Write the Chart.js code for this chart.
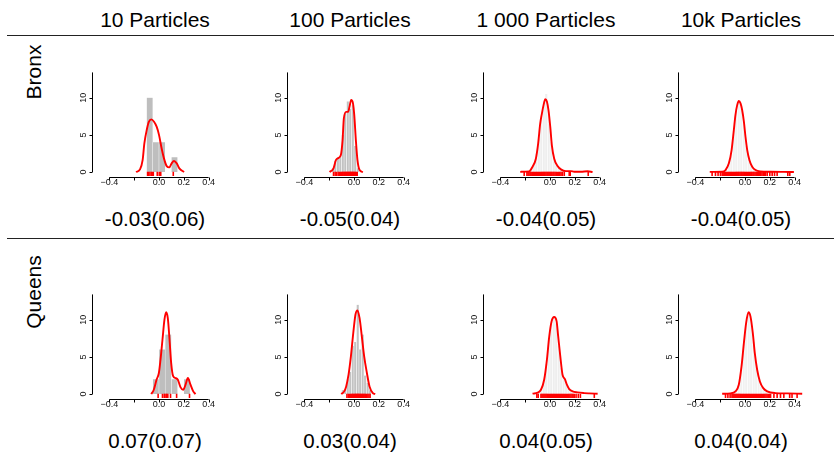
<!DOCTYPE html>
<html>
<head>
<meta charset="utf-8">
<title>Particle posterior densities</title>
<script src="https://cdn.jsdelivr.net/npm/chart.js@4.4.1/dist/chart.umd.min.js"></script>
<style>
  html, body { margin: 0; padding: 0; background: #fff; }
  body { width: 834px; height: 459px; position: relative; overflow: hidden;
         font-family: "Liberation Sans", Arial, Helvetica, sans-serif; color: #000; }
  .txt { position: absolute; white-space: nowrap; text-align: center; }
  .head { font-size: 21px; line-height: 21px; width: 200px; }
  .stat { font-size: 20.5px; line-height: 20px; width: 200px; }
  .rowlab { font-size: 21px; line-height: 21px; transform: translate(-50%, -50%) rotate(-90deg); }
  .rule { position: absolute; left: 7px; right: 0; height: 1px; background: #222; }
  canvas { position: absolute; }
</style>
</head>
<body>
<script>
'use strict';

/* LABELS */
const columnTitles = ['10 Particles', '100 Particles', '1\u00a0000 Particles', '10k Particles'];
const rowTitles = ['Bronx', 'Queens'];
const bronxStats = ['-0.03(0.06)', '-0.05(0.04)', '-0.04(0.05)', '-0.04(0.05)'];
const queensStats = ['0.07(0.07)', '0.03(0.04)', '0.04(0.05)', '0.04(0.04)'];
const yTicks = [0, 5, 10];
const xTicks = [-0.4, -0.2, 0, 0.2, 0.4];
const xTickLabels = ['\u22120.4', '', '0.0', '0.2', '0.4'];

/* BRONX — 10 particles */
const b10BinMid = [-0.075, -0.025, 0.025, 0.075, 0.125];
const b10BinHeight = [10, 4, 4, 0, 2];
const b10DensX = [-0.185, -0.153, -0.132, -0.118, -0.099, -0.081, -0.062, -0.040, -0.019, 0.000, 0.021, 0.040, 0.062, 0.083, 0.102, 0.121, 0.143, 0.164, 0.202];
const b10DensY = [0, 0.36, 1.6, 3.86, 5.65, 6.77, 7.08, 6.77, 6.1, 5.0, 3.2, 1.84, 0.8, 0.63, 1.17, 1.48, 1.17, 0.5, 0];
const b10Rug = [-0.092, -0.085, -0.073, -0.062, -0.054, -0.046, -0.014, 0.002, 0.014, 0.115];

/* BRONX — 100 particles */
const b100BinMid = [-0.17, -0.15, -0.13, -0.11, -0.09, -0.07, -0.05, -0.03, -0.01, 0.01, 0.03];
const b100BinHeight = [0.5, 1.5, 2, 2, 5, 8, 9.5, 8.5, 9, 3.5, 0.5];
const b100DensX = [-0.197, -0.165, -0.146, -0.125, -0.106, -0.092, -0.082, -0.063, -0.047, -0.036, -0.023, -0.009, 0.002, 0.015, 0.028, 0.045, 0.072];
const b100DensY = [0, 0.5, 1.6, 1.9, 2.3, 4.3, 7.2, 8.1, 8.1, 8.8, 9.7, 9.3, 7.7, 4.3, 1.6, 0.27, 0];
const b100Rug = [-0.165, -0.152, -0.141, -0.128, -0.119, -0.108, -0.101, -0.094, -0.088, -0.081, -0.075, -0.069, -0.063, -0.057, -0.052, -0.046, -0.041, -0.036, -0.031, -0.026, -0.021, -0.016, -0.011, -0.006, -0.001, 0.005, 0.011, 0.018, 0.026];

/* BRONX — 1 000 particles */
const b1000BinMid = [-0.17, -0.15, -0.13, -0.11, -0.09, -0.07, -0.05, -0.03, -0.01, 0.01, 0.03, 0.05, 0.07, 0.09, 0.11];
const b1000BinHeight = [0.1, 0.4, 1.0, 2.5, 4.5, 7.5, 9.5, 10.5, 8.0, 4.0, 2.0, 1.0, 0.5, 0.3, 0.2];
const b1000DensX = [-0.24, -0.168, -0.141, -0.114, -0.095, -0.079, -0.065, -0.052, -0.038, -0.025, -0.012, 0.002, 0.015, 0.034, 0.061, 0.088, 0.128, 0.169, 0.195, 0.249, 0.303, 0.343];
const b1000DensY = [0.03, 0.1, 0.7, 1.8, 3.9, 6.5, 7.9, 9.0, 9.8, 9.5, 8.3, 6.1, 3.6, 1.8, 0.8, 0.36, 0.13, 0.13, 0.05, 0.05, 0.1, 0];
const b1000Rug = [-0.208, -0.186, -0.177, -0.169, -0.160, -0.152, -0.143, -0.135, -0.127, -0.118, -0.110, -0.102, -0.094, -0.086, -0.078, -0.070, -0.063, -0.055, -0.047, -0.040, -0.032, -0.024, -0.017, -0.009, -0.001, 0.007, 0.015, 0.024, 0.032, 0.041, 0.050, 0.060, 0.069, 0.079, 0.089, 0.100, 0.115, 0.155, 0.163, 0.308];

/* BRONX — 10k particles */
const b10kBinMid = [-0.17, -0.15, -0.13, -0.11, -0.09, -0.07, -0.05, -0.03, -0.01, 0.01, 0.03, 0.05, 0.07, 0.09];
const b10kBinHeight = [0.1, 0.3, 1.0, 2.5, 5.5, 8.5, 9.5, 8.5, 6.5, 3.5, 1.8, 0.9, 0.4, 0.2];
const b10kDensX = [-0.284, -0.184, -0.157, -0.130, -0.108, -0.090, -0.077, -0.063, -0.050, -0.036, -0.023, -0.009, 0.004, 0.018, 0.036, 0.058, 0.085, 0.125, 0.206, 0.313, 0.394];
const b10kDensY = [0.02, 0.04, 0.27, 1.17, 2.96, 5.65, 7.67, 9.0, 9.55, 9.24, 8.34, 6.77, 4.75, 2.96, 1.6, 0.72, 0.27, 0.09, 0.04, 0.02, 0.01];
const b10kRug = [-0.265, -0.238, -0.217, -0.198, -0.184, -0.176, -0.167, -0.159, -0.150, -0.142, -0.134, -0.126, -0.118, -0.110, -0.102, -0.094, -0.086, -0.078, -0.071, -0.063, -0.055, -0.048, -0.040, -0.032, -0.025, -0.017, -0.009, -0.002, 0.006, 0.014, 0.022, 0.030, 0.038, 0.047, 0.055, 0.064, 0.072, 0.081, 0.090, 0.099, 0.108, 0.118, 0.127, 0.137, 0.147, 0.156, 0.165, 0.179, 0.200, 0.219, 0.238, 0.259, 0.345, 0.361];

/* QUEENS — 10 particles */
const q10BinMid = [-0.025, 0.025, 0.075, 0.125, 0.175, 0.225];
const q10BinHeight = [2, 6, 8, 2, 0, 2];
const q10DensX = [-0.063, -0.042, -0.020, -0.001, 0.012, 0.028, 0.044, 0.058, 0.071, 0.085, 0.098, 0.114, 0.133, 0.152, 0.173, 0.195, 0.214, 0.233, 0.254, 0.276, 0.294];
const q10DensY = [0, 0.58, 1.93, 2.83, 4.6, 7.3, 10.0, 11.0, 10.2, 7.3, 4.2, 2.4, 2.15, 1.93, 0.94, 0.58, 1.26, 2.15, 1.26, 0.36, 0];
const q10Rug = [-0.007, 0.028, 0.042, 0.047, 0.058, 0.062, 0.071, 0.093, 0.142, 0.246];

/* QUEENS — 100 particles */
const q100BinMid = [-0.09, -0.07, -0.05, -0.03, -0.01, 0.01, 0.03, 0.05, 0.07, 0.09, 0.11, 0.13];
const q100BinHeight = [0.5, 0.5, 2, 3, 6.5, 7, 12, 6, 8, 2.5, 1.5, 0.5];
const q100DensX = [-0.103, -0.079, -0.063, -0.044, -0.025, -0.006, 0.012, 0.028, 0.045, 0.063, 0.082, 0.104, 0.125, 0.152, 0.171];
const q100DensY = [0, 0.36, 1.03, 2.6, 5.07, 8.2, 10.7, 11.25, 10.2, 7.76, 5.07, 2.83, 1.03, 0.13, 0];
const q100Rug = [-0.057, -0.046, -0.038, -0.029, -0.022, -0.015, -0.009, -0.003, 0.003, 0.009, 0.014, 0.019, 0.024, 0.029, 0.034, 0.039, 0.044, 0.050, 0.056, 0.062, 0.068, 0.074, 0.081, 0.088, 0.095, 0.103, 0.112, 0.121, 0.130];

/* QUEENS — 1 000 particles */
const q1000BinMid = [-0.09, -0.07, -0.05, -0.03, -0.01, 0.01, 0.03, 0.05, 0.07, 0.09, 0.11, 0.13, 0.15, 0.17];
const q1000BinHeight = [0.3, 0.6, 1.8, 4.0, 7.5, 9.5, 10.5, 9.5, 6.5, 3.5, 2.2, 1.3, 0.7, 0.4];
const q1000DensX = [-0.141, -0.10, -0.073, -0.047, -0.025, -0.006, 0.013, 0.034, 0.053, 0.066, 0.083, 0.101, 0.12, 0.136, 0.155, 0.182, 0.222, 0.276, 0.317, 0.384];
const q1000DensY = [0.05, 0.2, 0.58, 1.93, 4.6, 7.76, 9.8, 10.36, 9.8, 7.76, 5.07, 2.6, 2.0, 1.26, 0.67, 0.36, 0.22, 0.13, 0.09, 0.04];
const q1000Rug = [-0.106, -0.095, -0.073, -0.065, -0.057, -0.049, -0.041, -0.033, -0.025, -0.018, -0.010, -0.002, 0.006, 0.013, 0.021, 0.029, 0.036, 0.044, 0.052, 0.060, 0.068, 0.076, 0.084, 0.092, 0.100, 0.108, 0.117, 0.125, 0.134, 0.143, 0.151, 0.160, 0.169, 0.178, 0.186, 0.195, 0.210, 0.228, 0.245, 0.357];

/* QUEENS — 10k particles */
const q10kBinMid = [-0.09, -0.07, -0.05, -0.03, -0.01, 0.01, 0.03, 0.05, 0.07, 0.09, 0.11, 0.13, 0.15, 0.17];
const q10kBinHeight = [0.2, 0.5, 1.2, 3.5, 6.8, 9.5, 11.0, 10.0, 7.0, 4.0, 2.0, 1.0, 0.6, 0.3];
const q10kDensX = [-0.184, -0.117, -0.077, -0.05, -0.028, -0.009, 0.009, 0.028, 0.044, 0.063, 0.079, 0.098, 0.12, 0.147, 0.179, 0.246, 0.34, 0.461];
const q10kDensY = [0.04, 0.09, 0.36, 1.26, 3.72, 6.86, 9.55, 11.0, 10.45, 8.2, 5.5, 3.27, 1.7, 0.8, 0.36, 0.13, 0.09, 0.04];
const q10kRug = [-0.157, -0.138, -0.12, -0.105, -0.097, -0.089, -0.081, -0.073, -0.065, -0.057, -0.049, -0.041, -0.034, -0.026, -0.018, -0.011, -0.003, 0.005, 0.012, 0.020, 0.028, 0.035, 0.043, 0.051, 0.059, 0.067, 0.075, 0.083, 0.091, 0.099, 0.108, 0.116, 0.125, 0.133, 0.142, 0.151, 0.160, 0.169, 0.178, 0.187, 0.196, 0.206, 0.233, 0.259, 0.286, 0.313, 0.36, 0.379, 0.42];

const panels = [
  { row: 0, col: 0, mid: b10BinMid, height: b10BinHeight, dx: b10DensX, dy: b10DensY, rug: b10Rug },
  { row: 0, col: 1, mid: b100BinMid, height: b100BinHeight, dx: b100DensX, dy: b100DensY, rug: b100Rug },
  { row: 0, col: 2, mid: b1000BinMid, height: b1000BinHeight, dx: b1000DensX, dy: b1000DensY, rug: b1000Rug },
  { row: 0, col: 3, mid: b10kBinMid, height: b10kBinHeight, dx: b10kDensX, dy: b10kDensY, rug: b10kRug },
  { row: 1, col: 0, mid: q10BinMid, height: q10BinHeight, dx: q10DensX, dy: q10DensY, rug: q10Rug },
  { row: 1, col: 1, mid: q100BinMid, height: q100BinHeight, dx: q100DensX, dy: q100DensY, rug: q100Rug },
  { row: 1, col: 2, mid: q1000BinMid, height: q1000BinHeight, dx: q1000DensX, dy: q1000DensY, rug: q1000Rug },
  { row: 1, col: 3, mid: q10kBinMid, height: q10kBinHeight, dx: q10kDensX, dy: q10kDensY, rug: q10kRug },
];

/* LAYOUT */
const FONT = '"Liberation Sans", Arial, Helvetica, sans-serif';
const PAD = { left: 30, right: 6, top: 6, bottom: 24 };
const CANVAS_W = 170, CANVAS_H = 137;
const COL_LEFT = [62, 257, 453, 648];
const ROW_TOP = [63, 285];
const COL_CENTER = [155, 350, 546, 741];
const X_MIN = -0.54, X_MAX = 0.54, Y_MIN = -0.53, Y_MAX = 13.86, Y_AXIS_TOP = 13.4, RUG_Y = -0.3;
const BAR_COLOR = ['#bebebe', '#c2c2c2', '#eeeeee', '#f1f1f1'];

function addText(cls, text, css) {
  const d = document.createElement('div');
  d.className = 'txt ' + cls;
  d.textContent = text;
  Object.assign(d.style, css);
  document.body.appendChild(d);
}

/* R-style axes drawn through the chart's own scales */
const rAxes = {
  id: 'rAxes',
  afterDraw(chart) {
    const { ctx, chartArea: a, scales: { x, y } } = chart;
    ctx.save();
    ctx.strokeStyle = '#000';
    ctx.fillStyle = '#111';
    ctx.lineWidth = 1;
    ctx.font = '9px ' + FONT;
    // y axis
    const ax = Math.round(a.left) + 0.5;
    ctx.beginPath();
    ctx.moveTo(ax, y.getPixelForValue(0));
    ctx.lineTo(ax, y.getPixelForValue(Y_AXIS_TOP));
    yTicks.forEach(v => {
      const py = Math.round(y.getPixelForValue(v)) + 0.5;
      ctx.moveTo(ax, py); ctx.lineTo(ax - 3, py);
    });
    ctx.stroke();
    ctx.textAlign = 'center';
    ctx.textBaseline = 'middle';
    yTicks.forEach(v => {
      ctx.save();
      ctx.translate(ax - 8.5, y.getPixelForValue(v));
      ctx.rotate(-Math.PI / 2);
      ctx.fillText(String(v), 0, 0);
      ctx.restore();
    });
    // x axis
    const ay = Math.round(a.bottom) + 1.5;
    ctx.beginPath();
    ctx.moveTo(x.getPixelForValue(xTicks[0]), ay);
    ctx.lineTo(x.getPixelForValue(xTicks[xTicks.length - 1]), ay);
    xTicks.forEach(v => {
      const px = Math.round(x.getPixelForValue(v)) + 0.5;
      ctx.moveTo(px, ay); ctx.lineTo(px, ay + 3);
    });
    ctx.stroke();
    xTicks.forEach((v, i) => {
      if (xTickLabels[i]) ctx.fillText(xTickLabels[i], x.getPixelForValue(v), ay + 5.5);
    });
    ctx.restore();
  }
};

/* FRAME TEXT */
columnTitles.forEach((t, c) => addText('head', t, { left: (COL_CENTER[c] - 100) + 'px', top: '9px' }));
rowTitles.forEach((t, r) => addText('rowlab', t, { left: '33px', top: (r === 0 ? 72 : 292) + 'px' }));
bronxStats.forEach((t, c) => addText('stat', t, { left: (COL_CENTER[c] - 100) + 'px', top: '209px' }));
queensStats.forEach((t, c) => addText('stat', t, { left: (COL_CENTER[c] - 100) + 'px', top: '431px' }));
[35, 238].forEach(y => {
  const r = document.createElement('div');
  r.className = 'rule';
  r.style.top = y + 'px';
  document.body.appendChild(r);
});

/* PANELS */
panels.forEach(p => {
  const cv = document.createElement('canvas');
  cv.width = CANVAS_W; cv.height = CANVAS_H;
  cv.style.left = COL_LEFT[p.col] + 'px';
  cv.style.top = ROW_TOP[p.row] + 'px';
  cv.style.width = CANVAS_W + 'px'; cv.style.height = CANVAS_H + 'px';
  document.body.appendChild(cv);

  new Chart(cv, {
    type: 'bar',
    data: {
      datasets: [
        {
          type: 'bar',
          data: p.mid.map((m, i) => ({ x: m, y: p.height[i] })),
          backgroundColor: BAR_COLOR[p.col],
          borderColor: '#ffffff',
          borderWidth: { left: 0.5, right: 0.5, top: 0, bottom: 0 },
          borderSkipped: false,
          barPercentage: 1,
          categoryPercentage: 1,
          order: 3
        },
        {
          type: 'line',
          data: p.dx.map((v, i) => ({ x: v, y: p.dy[i] })),
          borderColor: '#ff0000',
          borderWidth: 1.9,
          pointRadius: 0,
          fill: false,
          cubicInterpolationMode: 'monotone',
          order: 2
        },
        {
          type: 'line',
          showLine: false,
          data: p.rug.map(v => ({ x: v, y: RUG_Y })),
          pointStyle: 'line',
          pointRotation: 90,
          pointRadius: 2.5,
          pointBorderColor: '#ff0000',
          pointBackgroundColor: '#ff0000',
          pointBorderWidth: 1.6,
          order: 1
        }
      ]
    },
    options: {
      responsive: false,
      animation: false,
      events: [],
      layout: { padding: PAD },
      plugins: { legend: { display: false }, tooltip: { enabled: false } },
      scales: {
        x: { type: 'linear', min: X_MIN, max: X_MAX, offset: false, display: false, grid: { offset: false } },
        y: { type: 'linear', min: Y_MIN, max: Y_MAX, display: false }
      }
    },
    plugins: [rAxes]
  });
});
</script>
</body>
</html>
